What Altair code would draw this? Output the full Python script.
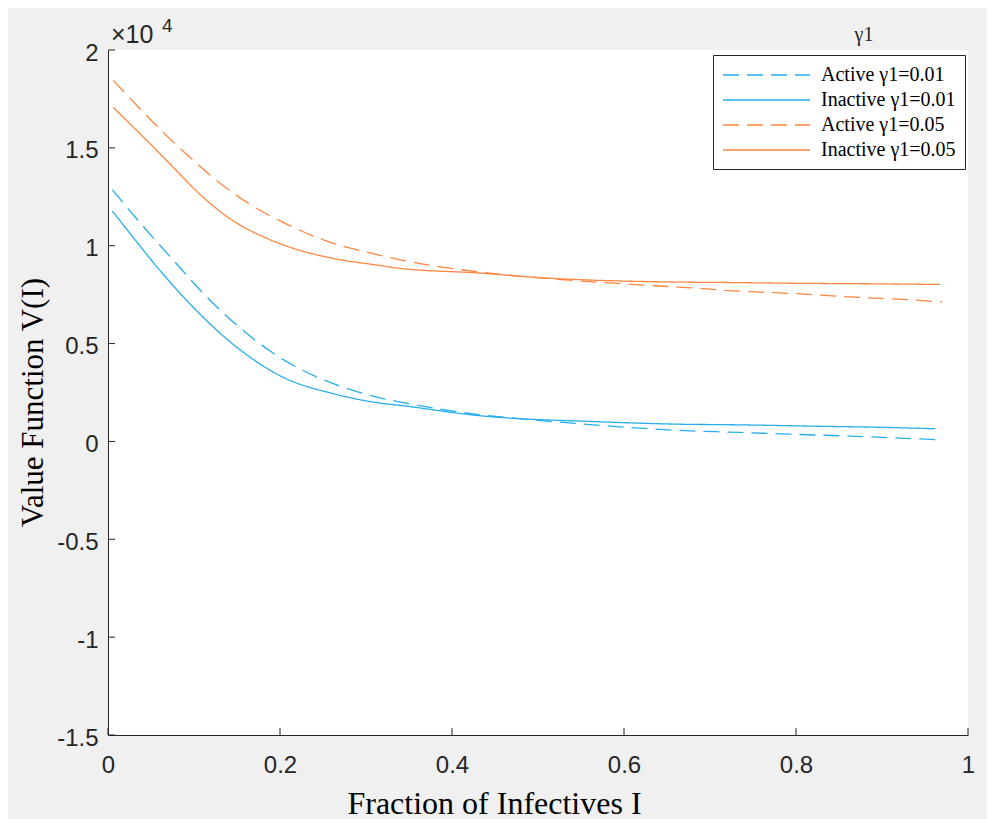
import altair as alt
import pandas as pd

# ---- data (V in units of 10^4) ----
series_names = ["Active γ1=0.01", "Inactive γ1=0.01", "Active γ1=0.05", "Inactive γ1=0.05"]

act01_I = [0.005, 0.043, 0.078, 0.112, 0.150, 0.198, 0.243, 0.285, 0.316, 0.340, 0.433, 0.479, 0.549, 0.665, 0.735, 0.793, 0.863, 0.921, 0.962]
act01_V = [1.286, 1.088, 0.916, 0.751, 0.593, 0.434, 0.329, 0.261, 0.223, 0.201, 0.136, 0.116, 0.090, 0.056, 0.046, 0.037, 0.027, 0.017, 0.009]

ina01_I = [0.005, 0.029, 0.057, 0.095, 0.145, 0.203, 0.262, 0.316, 0.340, 0.433, 0.479, 0.549, 0.665, 0.730, 0.820, 0.900, 0.962]
ina01_V = [1.177, 1.044, 0.891, 0.704, 0.498, 0.329, 0.244, 0.196, 0.184, 0.131, 0.116, 0.104, 0.088, 0.085, 0.078, 0.072, 0.065]

act05_I = [0.006, 0.074, 0.093, 0.126, 0.167, 0.206, 0.258, 0.302, 0.340, 0.433, 0.491, 0.665, 0.688, 0.717, 0.758, 0.799, 0.853, 0.892, 0.931, 0.970]
act05_V = [1.845, 1.538, 1.461, 1.334, 1.206, 1.114, 1.018, 0.966, 0.928, 0.865, 0.840, 0.788, 0.782, 0.772, 0.763, 0.755, 0.741, 0.732, 0.724, 0.712]

ina05_I = [0.006, 0.045, 0.076, 0.107, 0.145, 0.185, 0.223, 0.262, 0.316, 0.340, 0.433, 0.491, 0.665, 0.720, 0.800, 0.900, 0.967]
ina05_V = [1.707, 1.538, 1.400, 1.262, 1.129, 1.037, 0.976, 0.935, 0.899, 0.884, 0.860, 0.840, 0.814, 0.812, 0.808, 0.805, 0.802]

x_ticks = [0, 0.2, 0.4, 0.6, 0.8, 1]
y_ticks = [-1.5, -1, -0.5, 0, 0.5, 1, 1.5, 2]

colors = ["#27AEEA", "#27AEEA", "#FB8741", "#FB8741"]
dashes = [[16, 8], [1, 0], [16, 8], [1, 0]]

rows = []
for name, xs, ys in zip(series_names,
                        [act01_I, ina01_I, act05_I, ina05_I],
                        [act01_V, ina01_V, act05_V, ina05_V]):
    for i, (a, b) in enumerate(zip(xs, ys)):
        rows.append({"series": name, "I": a, "V": b, "order": i})
df = pd.DataFrame(rows)

W, H = 860, 685
AX = "#262626"

xscale = alt.Scale(domain=[0, 1], nice=False, zero=False)
yscale = alt.Scale(domain=[-1.5, 2], nice=False, zero=False)

xaxis = alt.Axis(values=x_ticks, format="~g", title="Fraction of Infectives I",
                 titleX=386, titleY=68, titleAnchor="start", titleAlign="center",
                 titleBaseline="middle", labelPadding=18, labelFlush=False, titleFontSize=32)
yaxis = alt.Axis(values=y_ticks, labelExpr="'' + datum.value", title="Value Function V(I)",
                 titleX=-75, titleY=352, titleAngle=-90, titleAlign="center",
                 titleBaseline="middle", titleAnchor="start", labelPadding=10, labelOffset=3,
                 labelFlush=False, titleFontSize=31)

lines = alt.Chart(df).mark_line(strokeWidth=1.3, interpolate="monotone").encode(
    x=alt.X("I:Q", scale=xscale, axis=xaxis),
    y=alt.Y("V:Q", scale=yscale, axis=yaxis),
    color=alt.Color("series:N", scale=alt.Scale(domain=series_names, range=colors),
                    sort=series_names,
                    legend=alt.Legend(orient="none", legendX=605, legendY=5, title=None,
                                      fillColor="white", strokeColor=AX, padding=9,
                                      symbolType="M-1,0H7.7", symbolSize=400,
                                      symbolStrokeWidth=1.5, symbolFillColor="transparent",
                                      labelFont="Liberation Serif", labelFontSize=20, labelColor="black",
                                      labelOffset=77, labelLimit=0, rowPadding=4)),
    strokeDash=alt.StrokeDash("series:N", scale=alt.Scale(domain=series_names, range=dashes),
                              sort=series_names, legend=None),
    detail="series:N",
    order="order:Q",
)

xt = alt.Chart(pd.DataFrame({"I": x_ticks})).mark_rule(color=AX, strokeWidth=1).encode(
    x=alt.X("I:Q", scale=xscale, axis=xaxis),
    y=alt.value(H), y2=alt.value(H - 7),
)
yt = alt.Chart(pd.DataFrame({"V": y_ticks})).mark_rule(color=AX, strokeWidth=1).encode(
    y=alt.Y("V:Q", scale=yscale, axis=yaxis),
    x=alt.value(0), x2=alt.value(7),
)

exp_base = alt.Chart(pd.DataFrame({"s": ["×10"]})).mark_text(
    font="Liberation Sans", fontSize=25, color=AX, align="left", baseline="alphabetic"
).encode(text="s:N", x=alt.value(3), y=alt.value(-7))
exp_sup = alt.Chart(pd.DataFrame({"s": ["4"]})).mark_text(
    font="Liberation Sans", fontSize=19, color=AX, align="left", baseline="alphabetic"
).encode(text="s:N", x=alt.value(54), y=alt.value(-18))
leg_title = alt.Chart(pd.DataFrame({"s": ["γ1"]})).mark_text(
    font="Liberation Serif", fontSize=20, color=AX, align="center", baseline="alphabetic"
).encode(text="s:N", x=alt.value(756), y=alt.value(-9))

chart = alt.layer(lines, xt, yt, exp_base, exp_sup, leg_title).properties(
    width=W, height=H,
    padding={"left": 100, "top": 42, "right": 19, "bottom": 84},
    autosize=alt.AutoSizeParams(type="none"),
    background="#F0F0F0",
).resolve_scale(x="shared", y="shared").configure_view(
    fill="white", stroke=None
).configure_axis(
    domainColor=AX, domainWidth=1, ticks=False, grid=False,
    labelFont="Liberation Sans", labelFontSize=24, labelColor=AX,
    titleFont="Liberation Serif", titleFontSize=30, titleColor="black", titleFontWeight="normal",
)

chart.save("out.html", embed_options={"renderer": "svg", "actions": False})
